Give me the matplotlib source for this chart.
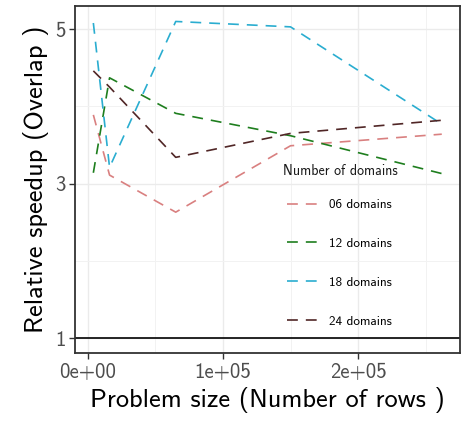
import matplotlib
matplotlib.use("Agg")
import matplotlib.pyplot as plt
from matplotlib.ticker import FuncFormatter, FixedLocator, MultipleLocator

plt.rcParams['font.family'] = ['cmss10', 'DejaVu Sans']
plt.rcParams['axes.unicode_minus'] = False

# Data
problem_size = [4000, 16000, 65000, 150000, 262000]
speedup_06 = [3.89, 3.11, 2.63, 3.49, 3.64]
speedup_12 = [3.14, 4.37, 3.91, 3.62, 3.13]
speedup_18 = [5.08, 3.21, 5.10, 5.03, 3.77]
speedup_24 = [4.46, 4.25, 3.34, 3.65, 3.82]
series_labels = ['06 domains', '12 domains', '18 domains', '24 domains']
series_colors = ['#D98080', '#1E7E1E', '#2AADD0', '#502626']
y_major = [1, 3, 5]
y_minor = [2, 4]

fig = plt.figure(figsize=(4.64, 4.24), dpi=100)
ax = fig.add_axes([0.1616, 0.1675, 0.8298, 0.8183])

for ys, lab, col in zip([speedup_06, speedup_12, speedup_18, speedup_24],
                        series_labels, series_colors):
    ax.plot(problem_size, ys, color=col, lw=1.2, dashes=(6.5, 4.8), label=lab)

ax.axhline(1, color='black', lw=1.2)

ax.set_xlim(-9600, 275500)
ax.set_ylim(0.806, 5.30)
ax.xaxis.set_major_locator(MultipleLocator(100000))
ax.xaxis.set_minor_locator(MultipleLocator(50000))
ax.yaxis.set_major_locator(FixedLocator(y_major))
ax.yaxis.set_minor_locator(FixedLocator(y_minor))
ax.yaxis.set_major_formatter(FuncFormatter(lambda v, p: f"{int(round(v))}"))
ax.xaxis.set_major_formatter(FuncFormatter(lambda v, p: f"{v:.0e}"))

ax.grid(True, which='major', color='#EBEBEB', lw=1.0)
ax.grid(True, which='minor', color='#F2F2F2', lw=0.7)
ax.set_axisbelow(True)
ax.tick_params(which='major', direction='out', length=4, width=1, color='#333333',
               labelsize=15, labelcolor='#4D4D4D', pad=3)
ax.tick_params(which='minor', length=0)
for s in ax.spines.values():
    s.set_color('#333333')
    s.set_linewidth(1.3)

ax.set_xlabel('Problem size (Number of rows )', fontsize=19, labelpad=4)
ax.set_ylabel('Relative speedup (Overlap )', fontsize=19, labelpad=4)

# legend: title as plain text, entries below it
fig.text(283 / 464, 1 - 171 / 424, 'Number of domains', fontsize=10,
         color='#1A1A1A', ha='left', va='center')
leg = ax.legend(loc='upper left',
                bbox_to_anchor=(287 / 464, 1 - 199 / 424), bbox_transform=fig.transFigure,
                frameon=False, fontsize=9.5, handlelength=2.3,
                labelspacing=2.01, handletextpad=0.9, borderaxespad=0, borderpad=0)

fig.savefig('out.png', dpi=100)
